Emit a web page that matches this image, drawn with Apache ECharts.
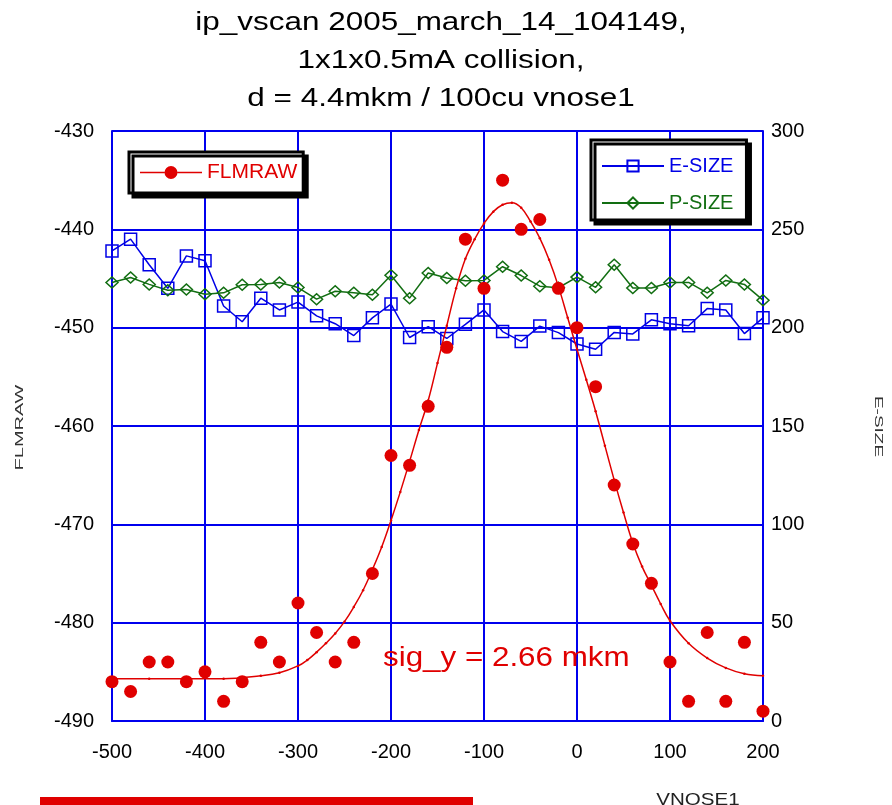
<!DOCTYPE html>
<html>
<head>
<meta charset="utf-8">
<script src="https://cdn.jsdelivr.net/npm/echarts@6/dist/echarts.min.js"></script>
<style>html,body{margin:0;padding:0;background:#fff;}#chart{width:892px;height:805px;}</style>
</head>
<body>
<div id="chart"></div>
<script>
// ---- data ----
const vnose = [-500,-480,-460,-440,-420,-400,-380,-360,-340,-320,-300,-280,-260,-240,-220,-200,-180,-160,-140,-120,-100,-80,-60,-40,-20,0,20,40,60,80,100,120,140,160,180,200];
const flmraw = [-486,-487,-484,-484,-486,-485,-488,-486,-482,-484,-478,-481,-484,-482,-475,-463,-464,-458,-452,-441,-446,-435,-440,-439,-446,-450,-456,-466,-472,-476,-484,-488,-481,-488,-482,-489];
const eSize = [239,245,232,220,236.5,234,211,203,215,209,213,206,202,196,205,212,195,200.5,194.5,201.7,209,198,193,200.8,197.5,191.7,189,197.6,196.8,204,202,201,209.7,209,197,205];
const pSize = [223,225.5,222,219,219.4,217,217.7,221.8,222,223,220.4,214.5,218.5,217.7,216.7,226.7,215,227.8,225.3,223.9,224,231,226.5,221.1,220.3,225.7,220.5,232,220.2,220.2,223,223,217.7,224,222,214];
// fitted curve at these positions
const fitX = [-500,-460,-420,-380,-340,-320,-300,-290,-280,-270,-260,-250,-240,-230,-220,-210,-200,-190,-180,-170,-160,-150,-140,-130,-120,-110,-100,-90,-80,-70,-60,-50,-40,-30,-20,-10,0,10,20,30,40,50,60,70,80,90,100,120,140,160,180,200];
const fitY = [-485.7,-485.7,-485.7,-485.7,-485.4,-485.1,-484.4,-483.8,-483.0,-482.1,-481.1,-479.9,-478.4,-476.7,-474.6,-472.3,-469.6,-466.7,-463.6,-460.4,-457.4,-453.6,-449.8,-446.0,-443.0,-441.0,-439.4,-438.2,-437.5,-437.3,-437.8,-439.2,-440.9,-443.1,-445.8,-449.0,-452.2,-455.3,-458.5,-462.0,-465.5,-468.8,-471.9,-474.3,-476.2,-478.1,-479.8,-482.1,-483.6,-484.6,-485.2,-485.4];
const xTicks = { min: -500, max: 200, interval: 100 };
const leftTicks = { min: -490, max: -430, interval: 10 };
const rightTicks = { min: 0, max: 300, interval: 50 };
const titleLines = ['ip_vscan 2005_march_14_104149,', '1x1x0.5mA collision,', 'd = 4.4mkm / 100cu vnose1'];
const annotation = 'sig_y = 2.66 mkm';

const RED = '#e00000', BLUE = '#0000e6', GREEN = '#126e12', GRID = '#0000ee';
const FONT = 'Liberation Sans, Arial, sans-serif';
const pairs = (xs, ys) => xs.map((x, i) => [x, ys[i]]);

const chart = echarts.init(document.getElementById('chart'), null, { renderer: 'canvas' });

const lineDotIcon = 'path://M0,6.25L24.5,6.25L24.5,7.75L0,7.75Z M37.5,6.25L62,6.25L62,7.75L37.5,7.75Z M37.5,7A6.5,6.5 0 1 1 24.5,7A6.5,6.5 0 1 1 37.5,7Z';

const legendBox = {
  backgroundColor: '#fff', borderColor: '#000', borderWidth: 3,
  shadowColor: '#000', shadowBlur: 0, shadowOffsetX: 4, shadowOffsetY: 4,
  itemGap: 17, itemWidth: 62, itemHeight: 13,
  textStyle: { fontFamily: FONT }
};

const option = {
  animation: false,
  backgroundColor: '#fff',
  grid: { left: 112, top: 131, width: 651, height: 590 },
  xAxis: {
    type: 'value', min: xTicks.min, max: xTicks.max, interval: xTicks.interval,
    axisLine: { show: true, onZero: false, lineStyle: { color: GRID, width: 2 } },
    axisTick: { show: false },
    splitLine: { show: true, lineStyle: { color: GRID, width: 2 } },
    axisLabel: { color: '#000', fontSize: 20, fontFamily: FONT, margin: 21 }
  },
  yAxis: [
    {
      type: 'value', position: 'left', min: leftTicks.min, max: leftTicks.max, interval: leftTicks.interval,
      axisLine: { show: true, onZero: false, lineStyle: { color: GRID, width: 2 } },
      axisTick: { show: false },
      splitLine: { show: true, lineStyle: { color: GRID, width: 2 } },
      axisLabel: { color: '#000', fontSize: 20, fontFamily: FONT, margin: 18 }
    },
    {
      type: 'value', position: 'right', min: rightTicks.min, max: rightTicks.max, interval: rightTicks.interval,
      axisLine: { show: true, onZero: false, lineStyle: { color: GRID, width: 2 } },
      axisTick: { show: false },
      splitLine: { show: false },
      axisLabel: { color: '#000', fontSize: 20, fontFamily: FONT, margin: 8 }
    }
  ],
  legend: [
    Object.assign({}, legendBox, {
      left: 129, top: 152, orient: 'horizontal',
      padding: [10, 6, 10, 11],
      data: [{ name: 'FLMRAW', icon: lineDotIcon, textStyle: { color: RED, fontSize: 21 } }]
    }),
    Object.assign({}, legendBox, {
      left: 591, top: 140, orient: 'vertical', itemHeight: 14,
      padding: [16, 13, 7, 10],
      data: [
        { name: 'E-SIZE', textStyle: { color: BLUE, fontSize: 20 } },
        { name: 'P-SIZE', textStyle: { color: GREEN, fontSize: 20 } }
      ]
    })
  ],
  series: [
    {
      name: 'E-SIZE', type: 'line', yAxisIndex: 1, data: pairs(vnose, eSize),
      symbol: 'rect', symbolSize: 12,
      lineStyle: { color: BLUE, width: 1.5 },
      itemStyle: { color: 'rgba(0,0,0,0)', borderColor: BLUE, borderWidth: 1.5 },
      z: 3
    },
    {
      name: 'P-SIZE', type: 'line', yAxisIndex: 1, data: pairs(vnose, pSize),
      symbol: 'diamond', symbolSize: [12, 11],
      lineStyle: { color: GREEN, width: 1.5 },
      itemStyle: { color: 'rgba(0,0,0,0)', borderColor: GREEN, borderWidth: 1.5 },
      z: 3
    },
    {
      name: 'FLMRAW', type: 'scatter', yAxisIndex: 0, data: pairs(vnose, flmraw),
      symbol: 'circle', symbolSize: 13,
      itemStyle: { color: RED, opacity: 1 },
      z: 4
    },
    {
      name: 'fit', type: 'line', yAxisIndex: 0, data: pairs(fitX, fitY),
      smooth: 0.4, symbol: 'circle', symbolSize: 2.5, showSymbol: true,
      lineStyle: { color: RED, width: 1.5 },
      itemStyle: { color: RED },
      z: 5
    }
  ],
  graphic: [
    { type: 'text', x: 441, y: 23, scaleX: 1.21, style: { text: titleLines[0], font: '26px ' + FONT, fill: '#000', align: 'center', verticalAlign: 'middle' } },
    { type: 'text', x: 441, y: 61, scaleX: 1.21, style: { text: titleLines[1], font: '26px ' + FONT, fill: '#000', align: 'center', verticalAlign: 'middle' } },
    { type: 'text', x: 441, y: 99, scaleX: 1.21, style: { text: titleLines[2], font: '26px ' + FONT, fill: '#000', align: 'center', verticalAlign: 'middle' } },
    { type: 'text', x: 20, y: 427.5, rotation: Math.PI / 2, scaleX: 2.0, style: { text: 'FLMRAW', font: '10px ' + FONT, fill: '#333', align: 'center', verticalAlign: 'middle' } },
    { type: 'text', x: 878, y: 426.5, rotation: -Math.PI / 2, scaleX: 1.9, style: { text: 'E-SIZE', font: '10px ' + FONT, fill: '#333', align: 'center', verticalAlign: 'middle' } },
    { type: 'text', x: 698, y: 800, scaleX: 1.21, style: { text: 'VNOSE1', font: '17px ' + FONT, fill: '#222', align: 'center', verticalAlign: 'middle' } },
    { type: 'text', x: 383, y: 658, scaleX: 1.12, z: 10, style: { text: annotation, font: '28px ' + FONT, fill: RED, align: 'left', verticalAlign: 'middle' } },
    { type: 'rect', shape: { x: 40, y: 797, width: 433, height: 10 }, style: { fill: RED } }
  ]
};
chart.setOption(option);
</script>
</body>
</html>
